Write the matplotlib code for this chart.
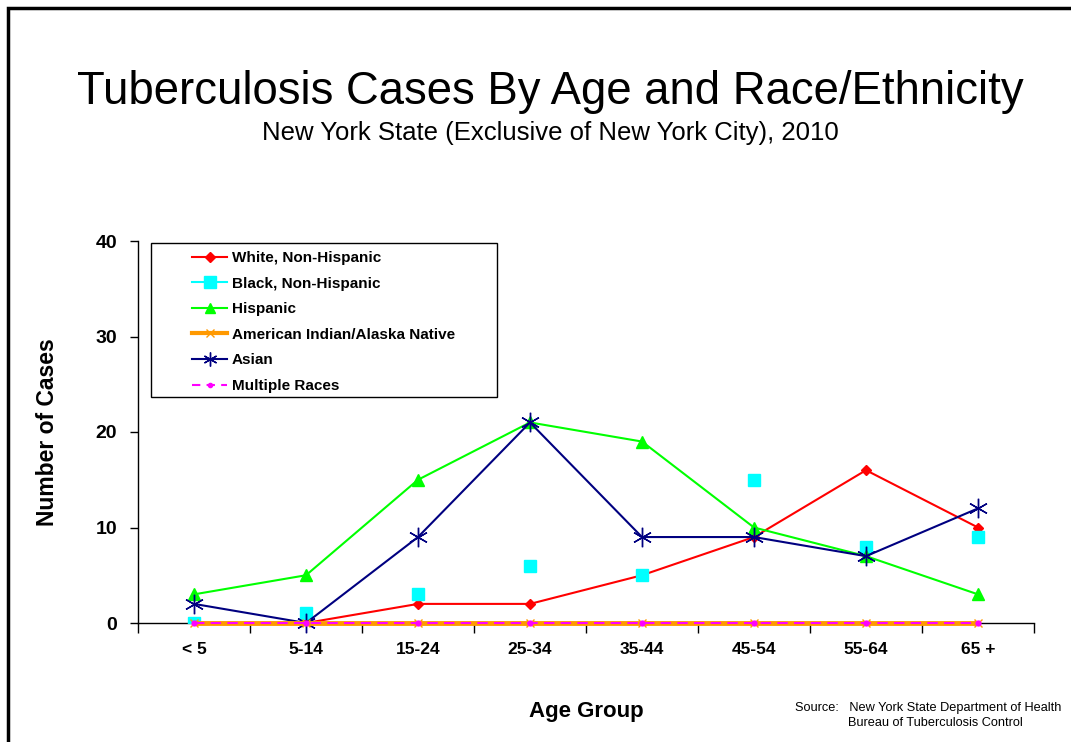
import numpy as np
import matplotlib.pyplot as plt
from matplotlib.lines import Line2D
from matplotlib.patches import Rectangle

plt.rcParams["font.family"] = ["Liberation Sans", "DejaVu Sans"]

AGE_GROUPS = ["< 5", "5-14", "15-24", "25-34", "35-44", "45-54", "55-64", "65 +"]
WHITE = [0, 0, 2, 2, 5, 9, 16, 10]
BLACK = [0, 1, 3, 6, 5, 15, 8, 9]
HISPANIC = [3, 5, 15, 21, 19, 10, 7, 3]
AIAN = [0, 0, 0, 0, 0, 0, 0, 0]
ASIAN = [2, 0, 9, 21, 9, 9, 7, 12]
MULTI = [0, 0, 0, 0, 0, 0, 0, 0]

ASTERISK = (6, 2, 0)
W, H = 1071, 742


def main():
    fig = plt.figure(figsize=(W / 100, H / 100), dpi=100)
    # outer frame (runs off the right and bottom edges)
    fig.add_artist(Rectangle((8 / W, -0.1), 1.2, 1.1 - 8 / H,
                             transform=fig.transFigure, fill=False,
                             lw=2.5, ec="black"))

    ax = fig.add_axes([138 / W, 119 / H, 896 / W, 382 / H])
    x = np.arange(len(AGE_GROUPS))

    ax.plot(x, WHITE, color="#ff0000", lw=1.5, marker="D", ms=5, zorder=3)
    ax.plot(x, BLACK, ls="none", marker="s", ms=9, color="#00ffff", zorder=3)
    ax.plot(x, HISPANIC, color="#00ff00", lw=1.5, marker="^", ms=8, zorder=3)
    ax.plot(x, ASIAN, color="#000080", lw=1.5, marker=ASTERISK, ms=14,
            mew=1.0, zorder=4, clip_on=False)
    ax.plot(x, AIAN, color="#ff9900", lw=3.5, marker="x", ms=6, mew=1,
            zorder=5, clip_on=False)
    ax.plot(x, MULTI, color="#ff00ff", lw=1.5, ls=(0, (5, 3)), marker="o",
            ms=3.5, zorder=6, clip_on=False)

    ax.set_xlim(-0.5, len(AGE_GROUPS) - 0.5)
    ax.set_ylim(0, 40)
    ax.set_yticks([0, 10, 20, 30, 40])
    ax.set_xticks(np.arange(-0.5, len(AGE_GROUPS)), labels=[])
    ax.set_xticks(x, labels=AGE_GROUPS, minor=True)
    ax.tick_params(axis="x", which="major", direction="out", length=7,
                   width=1)
    ax.tick_params(axis="x", which="minor", length=0, pad=14,
                   labelsize=12.5)
    ax.tick_params(axis="y", direction="out", length=6, width=1, pad=9,
                   labelsize=14)
    for lab in ax.get_xticklabels(minor=True) + ax.get_yticklabels():
        lab.set_fontweight("bold")
    for side in ["top", "right"]:
        ax.spines[side].set_visible(False)
    ax.spines["left"].set_linewidth(1)
    ax.spines["bottom"].set_linewidth(1)

    ax.set_ylabel("Number of Cases", fontsize=16.5, fontweight="bold",
                  labelpad=26)
    ax.set_xlabel("Age Group", fontsize=16, fontweight="bold", labelpad=31)

    handles = [
        Line2D([], [], color="#ff0000", lw=1.5, marker="D", ms=5),
        Line2D([], [], color="#00ffff", lw=1.5, marker="s", ms=8),
        Line2D([], [], color="#00ff00", lw=1.5, marker="^", ms=7),
        Line2D([], [], color="#ff9900", lw=3, marker="x", ms=6, mew=1),
        Line2D([], [], color="#000080", lw=1.5, marker=ASTERISK, ms=10),
        Line2D([], [], color="#ff00ff", lw=1.5, ls=(0, (4, 3)), marker="o",
               ms=3),
    ]
    names = ["White, Non-Hispanic", "Black, Non-Hispanic", "Hispanic",
             "American Indian/Alaska Native", "Asian", "Multiple Races"]
    # legend frame drawn separately: the original box is wider than its text
    fig.add_artist(Rectangle((151 / W, 1 - 397 / H), 346 / W, 154 / H,
                             transform=fig.transFigure, fill=True,
                             fc="white", lw=1, ec="black", zorder=9))
    leg = ax.legend(handles, names, loc="upper left",
                    bbox_to_anchor=(192 / W, 1 - 251 / H),
                    bbox_transform=fig.transFigure,
                    prop={"weight": "bold", "size": 11},
                    frameon=False, borderpad=0, labelspacing=0.76,
                    handlelength=2.3, handletextpad=0.3, borderaxespad=0)
    leg.set_zorder(10)
    fig.add_artist(leg)
    ax.legend_ = None

    fig.text(550 / W, 1 - 92 / H,
             "Tuberculosis Cases By Age and Race/Ethnicity",
             ha="center", va="center", fontsize=32.8)
    fig.text(550 / W, 1 - 133 / H,
             "New York State (Exclusive of New York City), 2010",
             ha="center", va="center", fontsize=18.5)
    fig.text(795 / W, 1 - 708 / H,
             "Source:   New York State Department of Health",
             ha="left", va="center", fontsize=9.2)
    fig.text(848 / W, 1 - 723 / H, "Bureau of Tuberculosis Control",
             ha="left", va="center", fontsize=9.2)

    fig.savefig("out.png", dpi=100)


if __name__ == "__main__":
    main()
